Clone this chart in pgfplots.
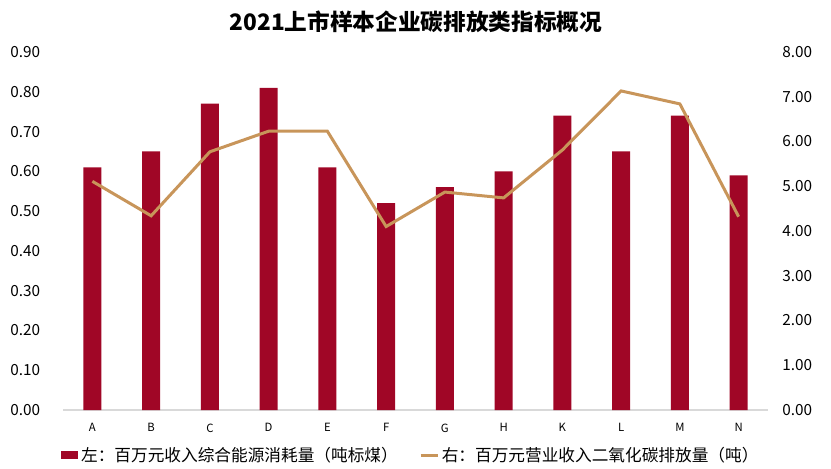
\documentclass[border=0pt]{standalone}
\usepackage{pgfplots}
\pgfplotsset{compat=1.18}
\usepackage{fontspec}
\setmainfont{Noto Sans CJK SC}
\definecolor{barred}{HTML}{A00626}
\definecolor{linetan}{HTML}{C8955A}
\definecolor{basegray}{HTML}{D9D9D9}
\begin{document}
\begin{tikzpicture}[x=1pt,y=1pt]
\useasboundingbox (0,0) rectangle (623.25,351);
\node[font=\fontsize{17}{20}\selectfont\bfseries] at (312,334.5) {2021上市样本企业碳排放类指标概况};
\begin{axis}[
  at={(47.25pt,43.5pt)}, anchor=south west,
  scale only axis, width=528.75pt, height=268.5pt,
  xmin=-0.5, xmax=11.5, ymin=0, ymax=0.9,
  xtick={0,1,2,3,4,5,6,7,8,9,10,11},
  xticklabels={A,B,C,D,E,F,G,H,K,L,M,N},
  ytick={0,0.1,0.2,0.3,0.4,0.5,0.6,0.7,0.8,0.9},
  axis x line*=bottom, axis y line*=left,
  x axis line style={draw=basegray, line width=0.8pt, -},
  y axis line style={draw=none},
  major tick length=0pt,
  /pgf/number format/assume math mode=true,
  yticklabel={\pgfmathprintnumber[fixed,fixed zerofill,precision=2]{\tick}},
  yticklabel style={font=\fontsize{11.5}{13}\selectfont, inner sep=0pt, xshift=-17pt},
  xticklabel style={font=\fontsize{8.5}{10}\selectfont, inner sep=0pt, yshift=-10pt},
  legend style={at={(0.494,-0.127)}, anchor=center, draw=none, fill=none,
    font=\fontsize{12.5}{14}\selectfont, legend columns=2,
    /tikz/every even column/.append style={column sep=14pt},
    legend cell align=left, inner sep=0pt},
]
\addplot[ybar, bar width=13.5pt, fill=barred, draw=none,
  legend image code/.code={\fill[barred] (0pt,-3pt) rectangle (12.75pt,3pt);}]
  coordinates {(0,0.61) (1,0.65) (2,0.77) (3,0.81) (4,0.61) (5,0.52) (6,0.56) (7,0.60) (8,0.74) (9,0.65) (10,0.74) (11,0.59)};
\addlegendentry{左：百万元收入综合能源消耗量（吨标煤）}
\addlegendimage{legend image code/.code={\draw[linetan, line width=2.25pt] (0pt,0pt) -- (12.75pt,0pt);}}
\addlegendentry{右：百万元营业收入二氧化碳排放量（吨）}
\end{axis}
\begin{axis}[
  at={(47.25pt,43.5pt)}, anchor=south west,
  scale only axis, width=528.75pt, height=268.5pt,
  xmin=-0.5, xmax=11.5, ymin=0, ymax=8,
  axis x line=none,
  axis y line*=right,
  y axis line style={draw=none},
  ytick={0,1,2,3,4,5,6,7,8},
  major tick length=0pt,
  /pgf/number format/assume math mode=true,
  yticklabel={\pgfmathprintnumber[fixed,fixed zerofill,precision=2]{\tick}},
  yticklabel style={font=\fontsize{11.5}{13}\selectfont, inner sep=0pt, xshift=10.5pt},
]
\addplot[linetan, line width=2.25pt, no markers]
  coordinates {(0,5.11) (1,4.34) (2,5.77) (3,6.23) (4,6.23) (5,4.10) (6,4.87) (7,4.74) (8,5.81) (9,7.13) (10,6.84) (11,4.32)};
\end{axis}
\end{tikzpicture}
\end{document}
